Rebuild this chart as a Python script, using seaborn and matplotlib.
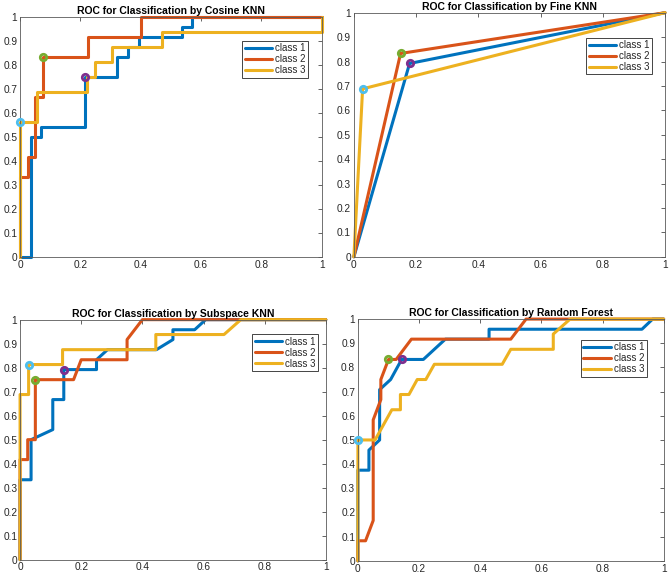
import numpy as np
import pandas as pd
import seaborn as sns
import matplotlib
matplotlib.use("Agg")
import matplotlib.pyplot as plt
from matplotlib.ticker import FuncFormatter

#data (fpr / tpr per class)
titles = ["ROC for Classification by Cosine KNN", "ROC for Classification by Fine KNN",
          "ROC for Classification by Subspace KNN", "ROC for Classification by Random Forest"]
class_names = ["class 1", "class 2", "class 3"]

#1. Cosine KNN
cos_x1 = [0, 0.036, 0.036, 0.071, 0.071, 0.214, 0.214, 0.321, 0.321, 0.357, 0.357, 0.393, 0.393, 0.536, 0.536, 0.571, 0.571, 1]
cos_y1 = [0, 0, 0.5, 0.5, 0.542, 0.542, 0.75, 0.75, 0.833, 0.833, 0.875, 0.875, 0.917, 0.917, 0.958, 0.958, 1, 1]
cos_x2 = [0, 0, 0.025, 0.025, 0.05, 0.05, 0.075, 0.075, 0.225, 0.225, 0.4, 0.4, 1]
cos_y2 = [0, 0.333, 0.333, 0.417, 0.417, 0.667, 0.667, 0.833, 0.833, 0.917, 0.917, 1, 1]
cos_x3 = [0, 0, 0.056, 0.056, 0.222, 0.222, 0.25, 0.25, 0.306, 0.306, 0.472, 0.472, 1, 1]
cos_y3 = [0, 0.563, 0.563, 0.688, 0.688, 0.75, 0.75, 0.813, 0.813, 0.875, 0.875, 0.938, 0.938, 1]
cos_pts = [(0.214, 0.75), (0.075, 0.833), (0, 0.563)]

#2. Fine KNN
fine_x1 = [0, 0.179, 1]
fine_y1 = [0, 0.792, 1]
fine_x2 = [0, 0.15, 1]
fine_y2 = [0, 0.833, 1]
fine_x3 = [0, 0.028, 1]
fine_y3 = [0, 0.688, 1]
fine_pts = [(0.179, 0.792), (0.15, 0.833), (0.028, 0.688)]

#3. Subspace KNN
sub_x1 = [0, 0, 0.036, 0.036, 0.107, 0.107, 0.143, 0.143, 0.25, 0.25, 0.286, 0.446, 0.5, 0.5, 0.571, 0.607, 1]
sub_y1 = [0, 0.333, 0.333, 0.5, 0.542, 0.667, 0.667, 0.792, 0.792, 0.833, 0.875, 0.875, 0.917, 0.958, 0.958, 1, 1]
sub_x2 = [0, 0, 0.025, 0.025, 0.05, 0.05, 0.175, 0.2, 0.35, 0.35, 0.4, 1]
sub_y2 = [0, 0.417, 0.417, 0.5, 0.5, 0.75, 0.75, 0.833, 0.833, 0.917, 1, 1]
sub_x3 = [0, 0, 0.028, 0.028, 0.139, 0.139, 0.444, 0.444, 0.667, 0.722, 1]
sub_y3 = [0, 0.688, 0.688, 0.813, 0.813, 0.875, 0.875, 0.938, 0.938, 1, 1]
sub_pts = [(0.143, 0.792), (0.05, 0.75), (0.028, 0.813)]

#4. Random Forest
rf_x1 = [0, 0, 0.036, 0.036, 0.071, 0.071, 0.107, 0.143, 0.214, 0.286, 0.429, 0.429, 0.929, 0.964, 1]
rf_y1 = [0, 0.375, 0.375, 0.458, 0.5, 0.708, 0.75, 0.833, 0.833, 0.917, 0.917, 0.958, 0.958, 1, 1]
rf_x2 = [0, 0, 0.025, 0.05, 0.05, 0.075, 0.075, 0.1, 0.125, 0.175, 0.5, 0.55, 1]
rf_y2 = [0, 0.083, 0.083, 0.167, 0.583, 0.667, 0.75, 0.833, 0.833, 0.917, 0.917, 1, 1]
rf_x3 = [0, 0, 0.056, 0.111, 0.139, 0.139, 0.167, 0.194, 0.222, 0.25, 0.472, 0.5, 0.639, 0.639, 0.694, 1]
rf_y3 = [0, 0.5, 0.5, 0.625, 0.625, 0.688, 0.688, 0.75, 0.75, 0.813, 0.813, 0.875, 0.875, 0.938, 1, 1]
rf_pts = [(0.143, 0.833), (0.1, 0.833), (0, 0.5)]

panels = [
    ([(cos_x1, cos_y1), (cos_x2, cos_y2), (cos_x3, cos_y3)], cos_pts),
    ([(fine_x1, fine_y1), (fine_x2, fine_y2), (fine_x3, fine_y3)], fine_pts),
    ([(sub_x1, sub_y1), (sub_x2, sub_y2), (sub_x3, sub_y3)], sub_pts),
    ([(rf_x1, rf_y1), (rf_x2, rf_y2), (rf_x3, rf_y3)], rf_pts),
]

#matlab default colours
line_colors = ["#0072BD", "#D95319", "#EDB120"]
point_colors = ["#7E2F8E", "#77AC30", "#4DBEEE"]

#axes boxes [left, bottom, width, height] and legend anchors
boxes = [[0.030, 0.555, 0.451, 0.416], [0.529, 0.555, 0.465, 0.423],
         [0.030, 0.030, 0.457, 0.416], [0.535, 0.028, 0.457, 0.419]]
leg_anchor = [(0.954, 0.90), (0.958, 0.898), (0.974, 0.939), (0.944, 0.914)]

sns.set_theme(style="white")
plt.rcParams['font.family'] = ['Liberation Sans', 'DejaVu Sans']

fig = plt.figure(figsize=(6.69, 5.77), dpi=100)
fmt = FuncFormatter(lambda v, p: "%g" % round(v, 2))

for i, (curves, pts) in enumerate(panels):
    ax = fig.add_axes(boxes[i])
    for j, (xs, ys) in enumerate(curves):
        df = pd.DataFrame({"FPR": xs, "TPR": ys})
        sns.lineplot(data=df, x="FPR", y="TPR", sort=False, estimator=None,
                     color=line_colors[j], linewidth=2.2, label=class_names[j], ax=ax)
    for ln in ax.get_lines():
        ln.set_clip_on(False)
    for j, (px, py) in enumerate(pts):
        ax.plot(px, py, 'o', mfc='none', mec=point_colors[j], mew=2.0, ms=4.6, clip_on=False, zorder=5)

    ax.set_xlim(0, 1)
    ax.set_ylim(0, 1)
    ax.set_xticks(np.arange(0, 1.01, 0.2))
    ax.set_yticks(np.arange(0, 1.01, 0.1))
    ax.xaxis.set_major_formatter(fmt)
    ax.yaxis.set_major_formatter(fmt)
    ax.set_xlabel("")
    ax.set_ylabel("")
    ax.tick_params(direction='in', length=3, width=0.5, top=True, right=True,
                   labelsize=7.3, colors='#262626', pad=2)
    for s in ax.spines.values():
        s.set_color('#5a5a5a')
        s.set_linewidth(0.6)
    ax.set_title(titles[i], fontsize=7.5, fontweight='bold', pad=2, color='black')

    leg = ax.legend(loc='upper right', bbox_to_anchor=leg_anchor[i], borderaxespad=0,
                    fontsize=7, fancybox=False, framealpha=1, edgecolor='#262626',
                    handlelength=2.8, handletextpad=0.3, labelspacing=0.1,
                    borderpad=0.25)
    leg.get_frame().set_linewidth(0.6)

plt.savefig("out.png", dpi=100)
